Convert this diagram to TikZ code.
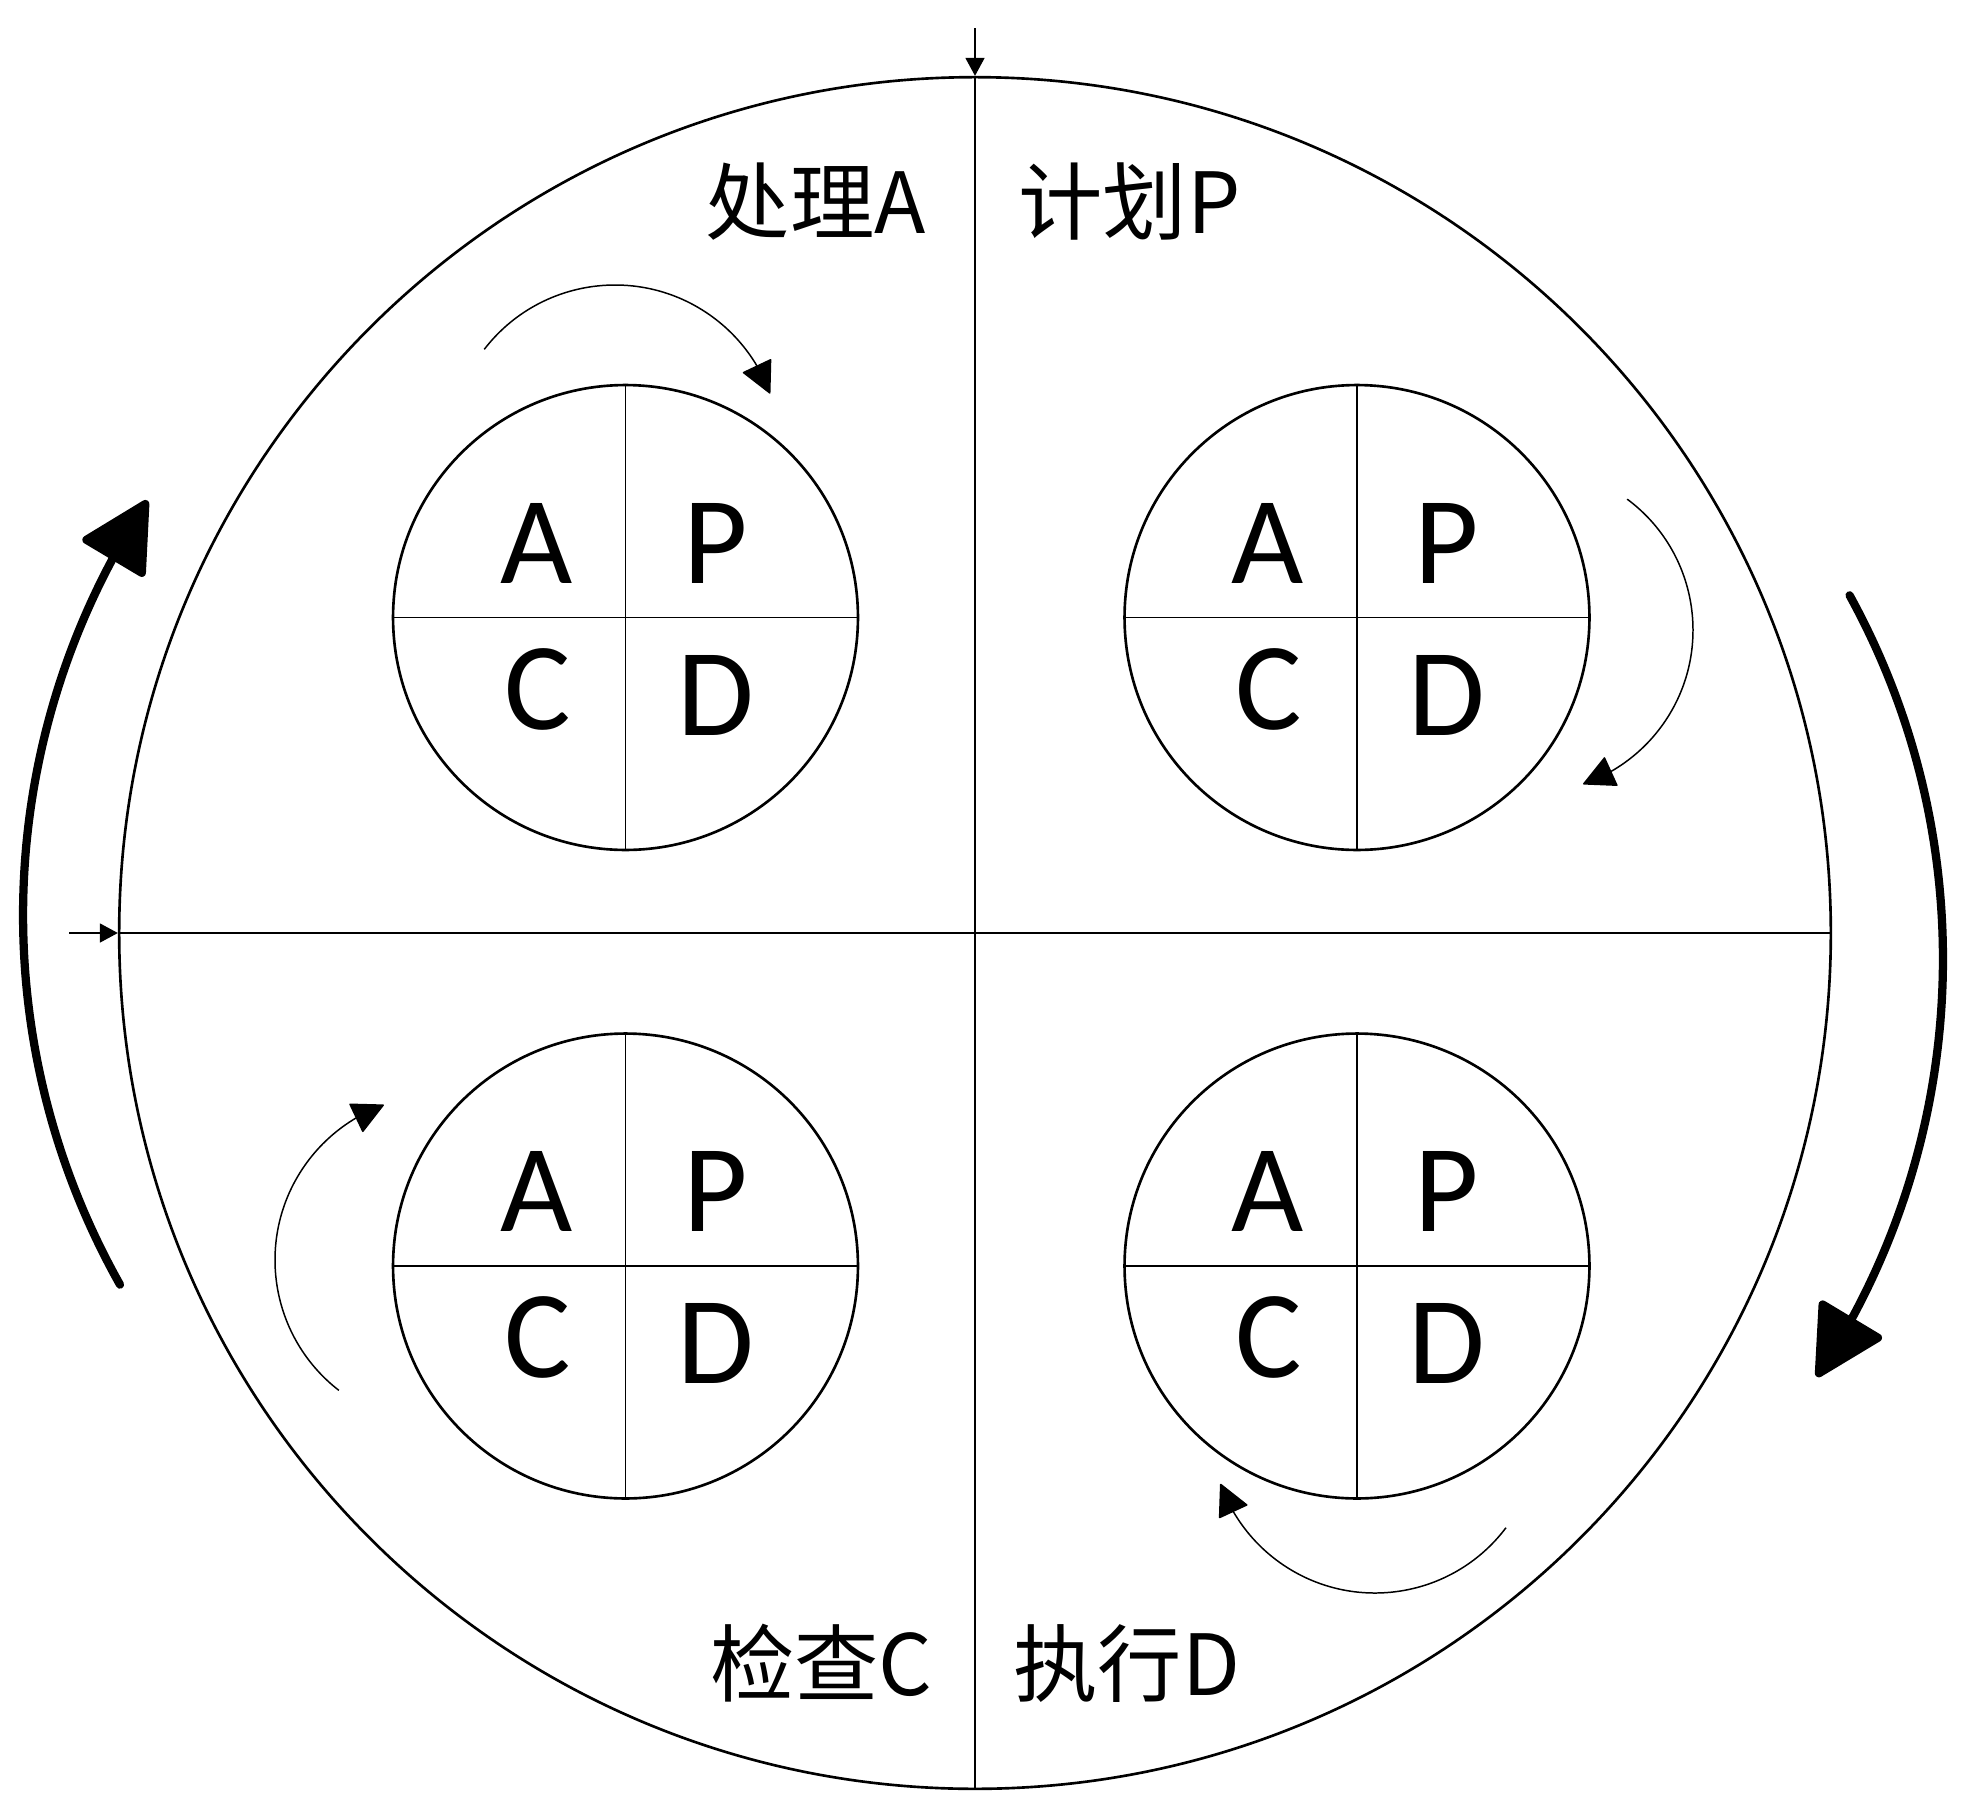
\documentclass[tikz,border=0pt]{standalone}
\usepackage{fontspec}
\usepackage{graphicx}
\newfontfamily\cjkfont{Noto Sans CJK SC}
\newfontfamily\letterfont{Carlito}
\usetikzlibrary{arrows.meta,bending,calc}
\begin{document}
\begin{tikzpicture}[x=0.02cm,y=0.02cm,
  bigcirc/.style={circle,draw,line width=1.5pt,minimum size=34.24cm,inner sep=0pt},
  smallcirc/.style={circle,draw,line width=1.5pt,minimum size=9.3cm,inner sep=0pt},
  divider/.style={line width=0.75pt},
  axis/.style={line width=0.95pt},
  axisarrow/.style={line width=0.95pt,-{Triangle[length=0.36cm,width=0.38cm]}},
  smallarc/.style={line width=0.85pt,-{Triangle[length=0.64cm,width=0.64cm,round]}},
  bigarc/.style={line width=4.7pt,line cap=round,-{Triangle[length=1.48cm,width=1.52cm,round]}},
  pdcaletter/.style={anchor=base,inner sep=0pt,font=\letterfont\fontsize{71}{80}\selectfont},
  phase/.style={inner sep=0pt,font=\cjkfont\fontsize{48}{58}\selectfont}
]
\fill[white] (0,0) rectangle (1969,-1819);
\useasboundingbox (0,0) rectangle (1969,-1819);

% outer circle and axes
\node[bigcirc] (big) at (975,-933) {};
\coordinate (vtop) at (975,-28);
\coordinate (hleft) at (69,-933);
\draw[axisarrow] (vtop) -- (big.north);
\draw[axis] (big.north) -- (big.south);
\draw[axisarrow] (hleft) -- (big.west);
\draw[axis] (big.west) -- (big.east);

% four small PDCA circles
\foreach \n/\cx/\cy in {tl/625.5/-617.5, tr/1357/-617.5, bl/625.5/-1266, br/1357/-1266} {
  \node[smallcirc] (\n) at (\cx,\cy) {};
  \draw[divider] (\n.north) -- (\n.south);
  \draw[divider] (\n.west) -- (\n.east);
  \node[pdcaletter] (\n-A) at (\cx-89,\cy+34.5) {A};
  \node[pdcaletter] (\n-P) at (\cx+90,\cy+34.5) {P};
  \node[pdcaletter] (\n-C) at (\cx-88,\cy-111.5) {C};
  \node[pdcaletter] (\n-D) at (\cx+90,\cy-117.5) {D};
}

% phase labels
\node[phase, anchor=base east] (lblA) at (926,-233) {处理A};
\node[phase, anchor=base west] (lblP) at (1018,-233) {计划P};
\node[phase, anchor=base east] (lblC) at (933,-1695) {检查C};
\node[phase, anchor=base west] (lblD) at (1013,-1695) {执行D};

% small rotation arrows
\coordinate (cTL) at (615,-450);
\coordinate (cTR) at (1530,-630);
\coordinate (cBR) at (1375,-1429);
\coordinate (cBL) at (440,-1260);
\draw[smallarc] ($(cTL)+(142.4:165)$) arc[start angle=142.4,end angle=20,radius=165];
\draw[smallarc] ($(cTR)+(53.4:163)$) arc[start angle=53.4,end angle=-71,radius=163];
\draw[smallarc] ($(cBR)+(-37:164)$) arc[start angle=-37,end angle=-160.5,radius=164];
\draw[smallarc] ($(cBL)+(232.2:165)$) arc[start angle=232.2,end angle=109.9,radius=165];

% big rotation arrows
\coordinate (cL) at (776,-915);
\coordinate (cR) at (1188,-959);
\draw[bigarc] ($(cL)+(209.4:753)$) arc[start angle=209.4,end angle=146.6,radius=753];
\draw[bigarc] ($(cR)+(28.8:755)$) arc[start angle=28.8,end angle=-33.6,radius=755];
\end{tikzpicture}
\end{document}
